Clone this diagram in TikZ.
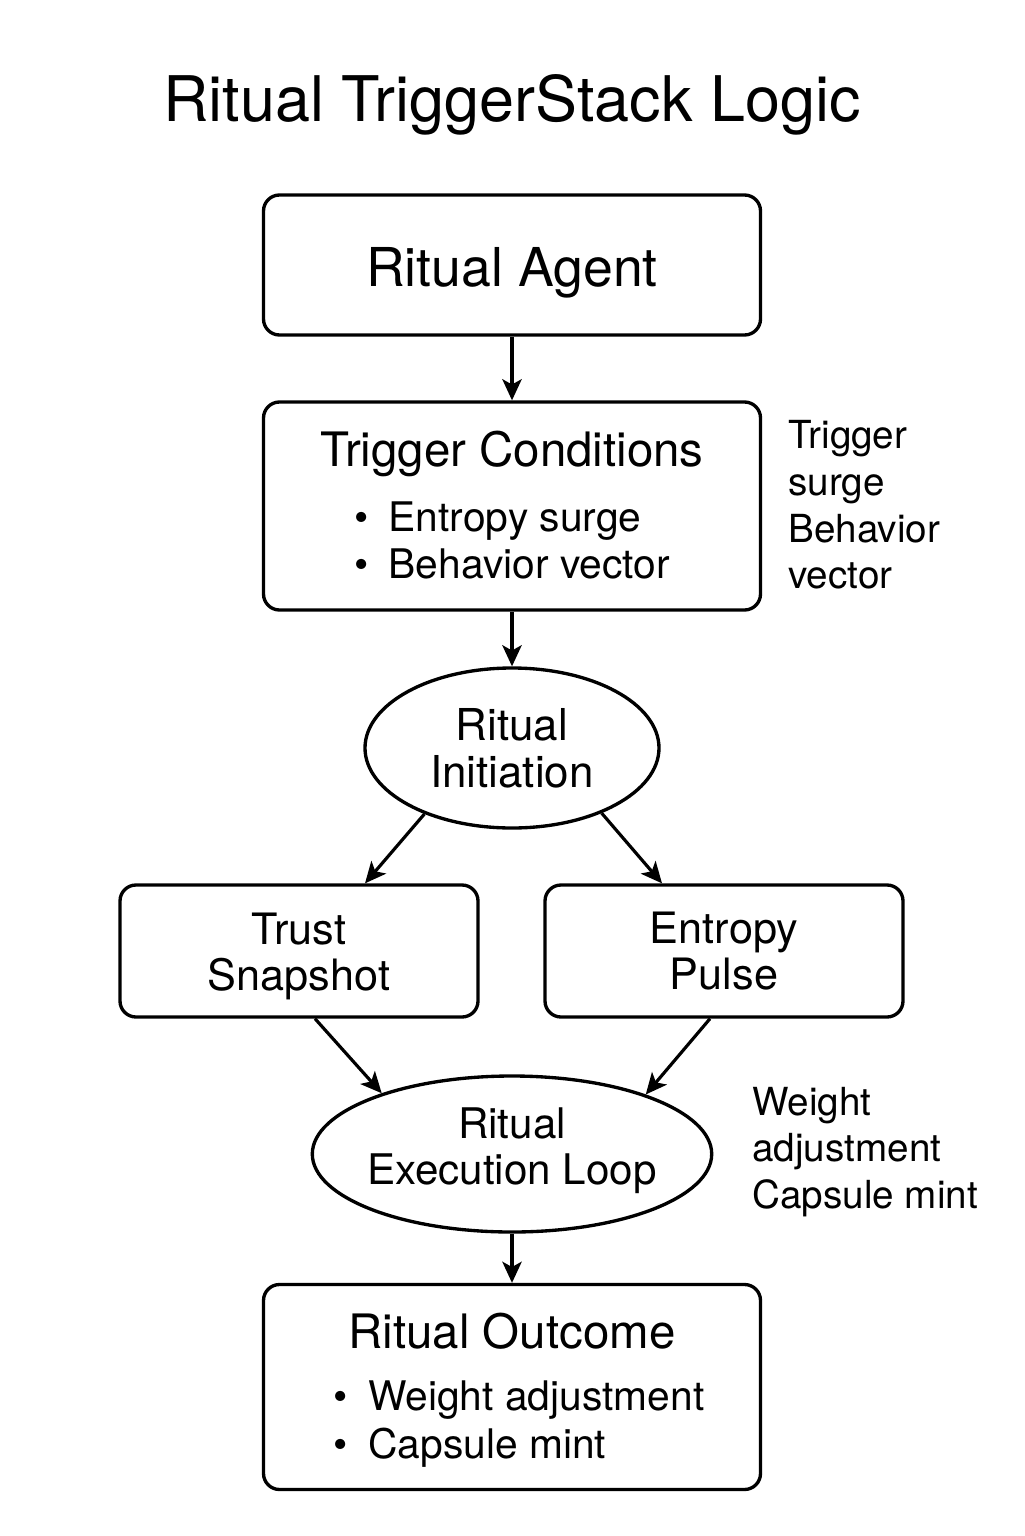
\documentclass[tikz,border=0pt]{standalone}
\usepackage{fontspec}
\setmainfont{TeX Gyre Heros}
\usetikzlibrary{shapes.geometric,arrows.meta,positioning}

\begin{document}
\begin{tikzpicture}[
  box/.style = {draw, line width=1.9pt, rounded corners=0.32cm, align=center, inner sep=0pt},
  oval/.style = {draw, ellipse, line width=1.9pt, align=center, inner sep=0pt},
  note/.style = {align=left, anchor=west, inner sep=0pt, font=\fontsize{22}{26.6}\selectfont},
  arr/.style = {line width=1.8pt, -{Stealth[length=12pt,width=11pt,inset=3pt]}}
]
\useasboundingbox (0,0) rectangle (20.48,-30.72);

\node (title) at (10.24,-2.1) {\fontsize{35.8}{40}\selectfont Ritual TriggerStack Logic};

\node[box, minimum width=9.94cm, minimum height=2.8cm,
  font=\fontsize{30.5}{34}\selectfont] (agent) at (10.24,-5.3) {\rule{0pt}{31pt}Ritual Agent};
\node[box, minimum width=9.94cm, minimum height=4.16cm] (cond) at (10.24,-10.12)
  {{\fontsize{27}{32}\selectfont\rule{0pt}{27pt}Trigger Conditions}\\[11pt]
   {\fontsize{23.2}{27.2}\selectfont\begin{tabular}{@{}l@{}}
    \textbullet\hspace{0.5em}Entropy surge\\
    \textbullet\hspace{0.5em}Behavior vector
   \end{tabular}\hspace{0.2cm}}};
\node[note] (condnote) at (15.76,-10.1) {Trigger\\surge\\Behavior\\vector};

\node[oval, minimum width=5.88cm, minimum height=3.2cm,
  font=\fontsize{25}{26.6}\selectfont] (init) at (10.24,-14.96) {Ritual\\Initiation};

\node[box, minimum width=7.16cm, minimum height=2.64cm,
  font=\fontsize{24.6}{26}\selectfont] (trust) at (5.98,-19.02) {\rule{0pt}{24pt}Trust\\Snapshot};
\node[box, minimum width=7.16cm, minimum height=2.64cm,
  font=\fontsize{24.6}{26}\selectfont] (pulse) at (14.48,-19.02) {Entropy\\Pulse};

\node[oval, minimum width=7.88cm, minimum height=3.12cm, inner xsep=-2pt,
  font=\fontsize{24}{26}\selectfont] (loop) at (10.24,-23.08) {Ritual\\Execution Loop\rule[-9pt]{0pt}{0pt}};
\node[note] (loopnote) at (15.04,-23.04) {Weight\\adjustment\\Capsule mint};

\node[box, minimum width=9.94cm, minimum height=4.1cm] (outcome) at (10.24,-27.74)
  {{\fontsize{27}{32}\selectfont\rule{0pt}{27pt}Ritual Outcome}\\[15pt]
   {\fontsize{23.2}{27.2}\selectfont\hspace{0.28cm}\begin{tabular}{@{}l@{}}
    \textbullet\hspace{0.5em}Weight adjustment\\
    \textbullet\hspace{0.5em}Capsule mint
   \end{tabular}}};

\draw[arr] (agent) -- (cond);
\draw[arr] (cond) -- (init);
\draw[arr] (init.217.6) -- ([xshift=1.32cm]trust.north);
\draw[arr] (init.-36.4) -- ([xshift=-1.24cm]pulse.north);
\draw[arr] ([xshift=0.32cm]trust.south) -- (loop.155);
\draw[arr] ([xshift=-0.28cm]pulse.south) -- (loop.24.7);
\draw[arr] (loop) -- (outcome);
\end{tikzpicture}
\end{document}
